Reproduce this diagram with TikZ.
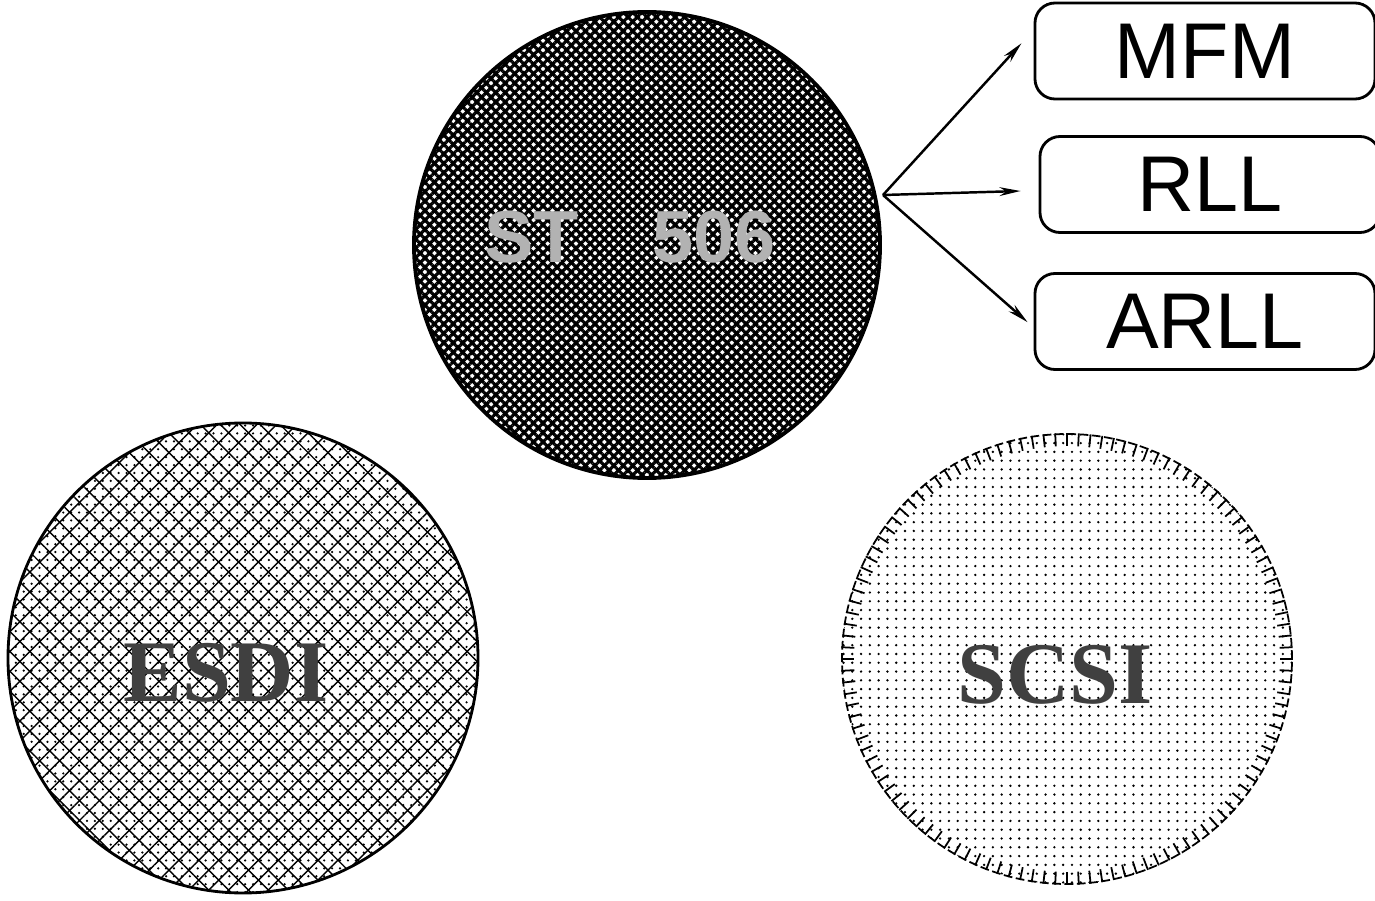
\documentclass[tikz,border=0pt]{standalone}
\usepackage{fontspec}
\setmainfont{Liberation Serif}
\setsansfont{Liberation Sans}
\usetikzlibrary{arrows.meta}
\usetikzlibrary{patterns.meta}

\begin{document}
\begin{tikzpicture}[
            disk-node/.style={circle,inner sep=0pt},
            code-node/.style={rectangle,rounded corners=0.4cm,draw,line width=1.6pt,
                minimum width=6.8cm,minimum height=1.92cm,
                font=\sffamily\fontsize{45}{45}\selectfont},
            disk-label/.style={font=\bfseries\fontsize{50}{50}\selectfont,text=black!75},
            feed/.style={line width=1.4pt,-{Stealth[length=12pt,width=5pt]}},
        ]
            \useasboundingbox (0,0) rectangle (27.5,18);

            % the three interfaces
            \node[disk-node,minimum size=9.32cm,draw,line width=2.2pt,
                pattern={Lines[angle=45,distance=3.8pt,line width=1.8pt]},
                postaction={pattern={Lines[angle=-45,distance=3.8pt,line width=1.8pt]}}]
                (st506) at (12.94, 13.1) {};
            \node[disk-node,minimum size=9.4cm,draw,line width=1.6pt,
                pattern={Lines[angle=45,distance=8pt,line width=0.8pt]},
                postaction={pattern={Lines[angle=-45,distance=8pt,line width=0.8pt]}},
                postaction={pattern={Dots[distance=4.5pt,radius=0.7pt]}}]
                (esdi) at (4.86, 4.84) {};
            \node[disk-node,minimum size=9cm,draw,line width=1pt,dash pattern=on 5pt off 2pt,
                pattern={Dots[distance=5pt,radius=0.75pt]}]
                (scsi) at (21.34, 4.82) {};
            \foreach \a in {0,3,...,357}
                \draw[line width=1pt] (scsi.\a) -- ++(\a+180:0.26);

            \node[font=\sffamily\bfseries\fontsize{42}{42}\selectfont,text=black!30] at (12.6, 13.25) {ST\quad 506};
            \node[disk-label] at (4.52, 4.54) {ESDI};
            \node[disk-label] at (21.1, 4.5) {SCSI};

            % encodings
            \node[code-node] (mfm) at (24.1, 16.98) {MFM};
            \node[code-node] (rll) at (24.2, 14.31) {RLL};
            \node[code-node] (arll) at (24.1, 11.57) {ARLL};

            \coordinate (fork) at (17.66, 14.1);
            \draw[feed,shorten >=0.36cm] (fork) -- (mfm.173);
            \draw[feed,shorten >=0.36cm] (fork) -- (rll.182);
            \draw[feed,shorten >=0.16cm] (fork) -- (arll.182.5);
        \end{tikzpicture}
\end{document}
